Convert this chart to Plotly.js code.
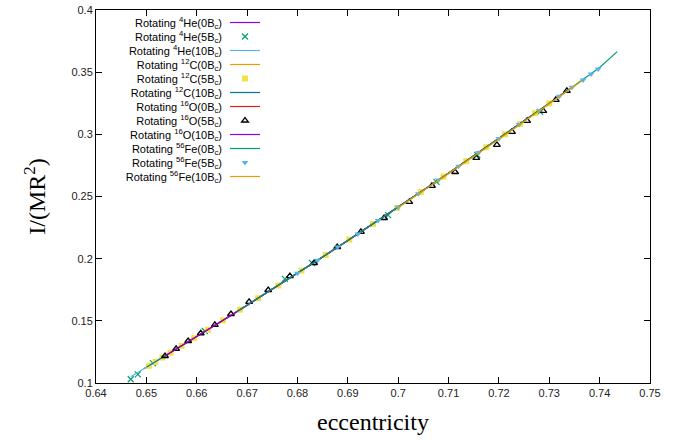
<!DOCTYPE html>
<html>
<head>
<meta charset="utf-8">
<script src="https://cdn.plot.ly/plotly-3.0.1.min.js"></script>
<style>html,body{margin:0;padding:0;background:#fff;}#plot{width:689px;height:441px;}</style>
</head>
<body>
<div id="plot"></div>
<script>
// ---- Data ----
var names = [
  'Rotating <sup>4</sup>He(0B<sub>c</sub>)',
  'Rotating <sup>4</sup>He(5B<sub>c</sub>)',
  'Rotating <sup>4</sup>He(10B<sub>c</sub>)',
  'Rotating <sup>12</sup>C(0B<sub>c</sub>)',
  'Rotating <sup>12</sup>C(5B<sub>c</sub>)',
  'Rotating <sup>12</sup>C(10B<sub>c</sub>)',
  'Rotating <sup>16</sup>O(0B<sub>c</sub>)',
  'Rotating <sup>16</sup>O(5B<sub>c</sub>)',
  'Rotating <sup>16</sup>O(10B<sub>c</sub>)',
  'Rotating <sup>56</sup>Fe(0B<sub>c</sub>)',
  'Rotating <sup>56</sup>Fe(5B<sub>c</sub>)',
  'Rotating <sup>56</sup>Fe(10B<sub>c</sub>)'
];

var he4_0_e = [0.6495,0.655,0.660,0.665,0.670,0.675,0.680,0.685,0.690,0.695,0.700,0.705,0.710,0.715,0.720,0.725,0.730,0.733];
var he4_0_I = [0.1114,0.1249,0.1373,0.1499,0.1626,0.1754,0.1883,0.2014,0.2146,0.2279,0.2414,0.2550,0.2687,0.2826,0.2966,0.3107,0.3249,0.3336];

var he4_5_e = [0.6469,0.6483,0.6513,0.6616,0.6775,0.6829,0.6980,0.7076,0.7157,0.7282];
var he4_5_I = [0.1030,0.1070,0.1160,0.1418,0.1837,0.1965,0.2350,0.2617,0.2834,0.3180];

var he4_10_e = [0.6469,0.650,0.655,0.660,0.665,0.670,0.675,0.680,0.685,0.690,0.695,0.700,0.705,0.710,0.715,0.720,0.725,0.730,0.7325];
var he4_10_I = [0.1050,0.1126,0.1249,0.1373,0.1499,0.1626,0.1754,0.1883,0.2014,0.2146,0.2279,0.2414,0.2550,0.2687,0.2826,0.2966,0.3107,0.3249,0.3321];

var c12_0_e = [0.6505,0.655,0.660,0.665,0.670,0.675,0.680,0.685,0.690,0.695,0.700,0.705,0.710,0.715,0.720,0.725,0.730];
var c12_0_I = [0.1138,0.1249,0.1373,0.1499,0.1626,0.1754,0.1883,0.2014,0.2146,0.2279,0.2414,0.2550,0.2687,0.2826,0.2966,0.3107,0.3249];

var c12_5_e = [0.6505,0.6518,0.6532,0.6548,0.6570,0.6595,0.6622,0.6652,0.6686,0.6722,0.6762,0.6808,0.6856,0.6903,0.6950,0.6998,0.7045,0.7090,0.7135,0.7175,0.7212,0.7242,0.7272,0.7300];
var c12_5_I = [0.1138,0.1170,0.1205,0.1244,0.1299,0.1361,0.1428,0.1504,0.1590,0.1682,0.1784,0.1904,0.2029,0.2154,0.2279,0.2408,0.2536,0.2660,0.2784,0.2896,0.3000,0.3084,0.3170,0.3249];

var c12_10_e = [0.650,0.655,0.660,0.665,0.670,0.675,0.680,0.685,0.690,0.695,0.700,0.705,0.710,0.715,0.720,0.725,0.730,0.7315];
var c12_10_I = [0.1126,0.1249,0.1373,0.1499,0.1626,0.1754,0.1883,0.2014,0.2146,0.2279,0.2414,0.2550,0.2687,0.2826,0.2966,0.3107,0.3249,0.3293];

var o16_0_e = [0.6537,0.655,0.660,0.665,0.670,0.675,0.680,0.685,0.690,0.695,0.700,0.705,0.710,0.715,0.720,0.725,0.730,0.7335];
var o16_0_I = [0.1217,0.1249,0.1373,0.1499,0.1626,0.1754,0.1883,0.2014,0.2146,0.2279,0.2414,0.2550,0.2687,0.2826,0.2966,0.3107,0.3249,0.3350];

var o16_5_e = [0.6537,0.6559,0.6583,0.6608,0.6636,0.6668,0.6704,0.6742,0.6785,0.6833,0.6879,0.6926,0.6972,0.7022,0.7067,0.7113,0.7155,0.7196,0.7226,0.7256,0.7288,0.7313,0.7335];
var o16_5_I = [0.1217,0.1274,0.1338,0.1400,0.1467,0.1555,0.1652,0.1748,0.1860,0.1965,0.2094,0.2215,0.2327,0.2456,0.2585,0.2697,0.2810,0.2915,0.3020,0.3108,0.3188,0.3277,0.3350];

var o16_10_e = [0.6537,0.655,0.660,0.665,0.670,0.675,0.680,0.685,0.690,0.695,0.700,0.705,0.710,0.715,0.720,0.725,0.730,0.734];
var o16_10_I = [0.1217,0.1249,0.1373,0.1499,0.1626,0.1754,0.1883,0.2014,0.2146,0.2279,0.2414,0.2550,0.2687,0.2826,0.2966,0.3107,0.3249,0.3364];

var fe56_0_e = [0.668,0.670,0.675,0.680,0.685,0.690,0.695,0.700,0.705,0.710,0.715,0.720,0.725,0.730,0.735,0.740,0.7435];
var fe56_0_I = [0.1575,0.1626,0.1754,0.1883,0.2014,0.2146,0.2279,0.2414,0.2550,0.2687,0.2826,0.2966,0.3107,0.3249,0.3393,0.3538,0.3665];

var fe56_5_e = [0.6800,0.6840,0.6880,0.6920,0.6960,0.7000,0.7040,0.7080,0.7120,0.7160,0.7200,0.7240,0.7280,0.7320,0.7345,0.7367,0.7383,0.7397];
var fe56_5_I = [0.1883,0.1988,0.2093,0.2199,0.2306,0.2414,0.2522,0.2632,0.2743,0.2854,0.2966,0.3079,0.3192,0.3307,0.3379,0.3438,0.3486,0.3526];

var fe56_10_e = [0.700,0.705,0.710,0.715,0.720,0.725,0.730,0.735,0.7365];
var fe56_10_I = [0.2410,0.2545,0.2682,0.2821,0.2960,0.3101,0.3243,0.3387,0.3431];

var xTicks = [0.64,0.65,0.66,0.67,0.68,0.69,0.70,0.71,0.72,0.73,0.74,0.75];
var yTicks = [0.1,0.15,0.2,0.25,0.3,0.35,0.4];

// ---- Traces ----
function ln(x, y, name, color) {
  return {x: x, y: y, name: name, type: 'scatter', mode: 'lines',
          line: {color: color, width: 1.2}};
}
function pt(x, y, name, color, symbol, size, lw) {
  return {x: x, y: y, name: name, type: 'scatter', mode: 'markers',
          marker: {color: color, symbol: symbol, size: size, line: {color: color, width: lw}}};
}
var traces = [
  ln(he4_0_e, he4_0_I, names[0], '#9400d3'),
  pt(he4_5_e, he4_5_I, names[1], '#009e73', 'x-thin-open', 6, 1.2),
  ln(he4_10_e, he4_10_I, names[2], '#56b4e9'),
  ln(c12_0_e, c12_0_I, names[3], '#e69f00'),
  pt(c12_5_e, c12_5_I, names[4], '#f0e442', 'square', 6, 0),
  ln(c12_10_e, c12_10_I, names[5], '#0072b2'),
  ln(o16_0_e, o16_0_I, names[6], '#e51e10'),
  pt(o16_5_e, o16_5_I, names[7], '#000000', 'triangle-up-open', 6, 1.3),
  ln(o16_10_e, o16_10_I, names[8], '#9400d3'),
  ln(fe56_0_e, fe56_0_I, names[9], '#009e73'),
  pt(fe56_5_e, fe56_5_I, names[10], '#56b4e9', 'triangle-down', 6, 0),
  ln(fe56_10_e, fe56_10_I, names[11], '#e69f00')
];

var tickFont = {family: 'Liberation Sans, Arial, sans-serif', size: 11, color: '#222'};
var titleFont = {family: 'Liberation Serif, Times New Roman, serif', size: 24, color: '#000'};

var layout = {
  width: 689, height: 441,
  margin: {l: 96, r: 39, t: 10, b: 58},
  paper_bgcolor: '#fff', plot_bgcolor: '#fff',
  showlegend: true,
  legend: {x: 0.02, y: 0.98, xanchor: 'left', yanchor: 'top', bgcolor: 'rgba(0,0,0,0)',
           font: {family: 'Liberation Sans, Arial, sans-serif', size: 11, color: '#000'}},
  xaxis: {
    range: [0.64, 0.75], tickvals: xTicks, ticktext: xTicks.map(String),
    ticks: 'inside', ticklen: 6, tickwidth: 1, tickcolor: '#000',
    showline: true, linecolor: '#000', linewidth: 1, mirror: 'ticks',
    showgrid: false, zeroline: false, tickfont: tickFont,
    title: {text: 'eccentricity', font: titleFont, standoff: 14}, automargin: false
  },
  yaxis: {
    range: [0.1, 0.4], tickvals: yTicks, ticktext: yTicks.map(String),
    ticks: 'inside', ticklen: 6, tickwidth: 1, tickcolor: '#000',
    showline: true, linecolor: '#000', linewidth: 1, mirror: 'ticks',
    showgrid: false, zeroline: false, tickfont: tickFont,
    title: {text: 'I/(MR<sup>2</sup>)', font: titleFont, standoff: 18}, automargin: false
  }
};

Plotly.newPlot('plot', traces, layout, {staticPlot: true}).then(function (gd) {
  // gnuplot-style legend: right-aligned text with the sample to its right
  var leg = gd.querySelector('g.legend');
  if (!leg) return;
  var RX = 222, Y0 = 22.5, DY = 14;
  leg.setAttribute('transform', 'translate(0,0)');
  leg.removeAttribute('clip-path');
  var bg = leg.querySelector('rect.bg'); if (bg) bg.style.display = 'none';
  var sb = leg.querySelector('g.scrollbox');
  if (sb) { sb.removeAttribute('clip-path'); sb.setAttribute('transform', 'translate(0,0)'); }
  leg.querySelectorAll('g.groups').forEach(function (g) { g.setAttribute('transform', 'translate(0,0)'); });
  leg.querySelectorAll('g.traces').forEach(function (it, i) {
    it.setAttribute('transform', 'translate(' + RX + ',' + (Y0 + DY * i) + ')');
    var t = it.querySelector('text.legendtext');
    if (t) { t.setAttribute('x', 0); t.setAttribute('text-anchor', 'end'); t.style.textAnchor = 'end'; }
    var layers = it.querySelector('g.layers');
    if (layers) layers.setAttribute('transform', 'translate(3,0)');
  });
});
</script>
</body>
</html>
